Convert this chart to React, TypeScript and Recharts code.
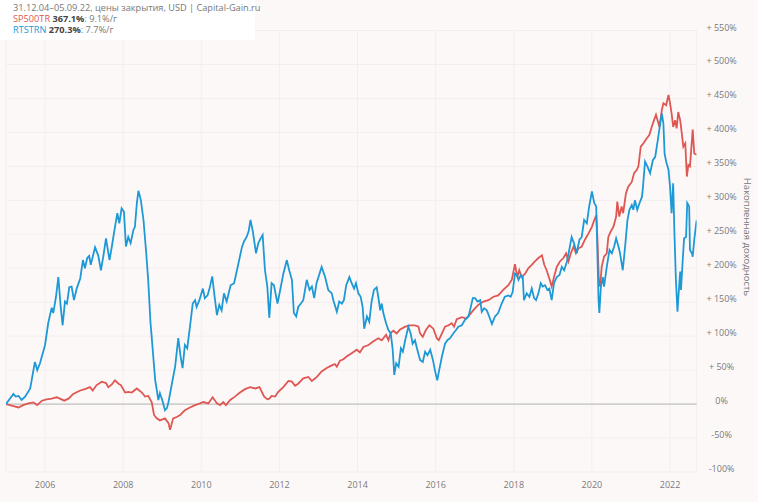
import React from 'react';
import { LineChart, Line, XAxis, YAxis, CartesianGrid, ReferenceLine } from 'recharts';

// SP500TR cumulative return, % (date as decimal year)
const spDates = [
  2005.0, 2005.19, 2005.32, 2005.44, 2005.57, 2005.7, 2005.8, 2005.92, 2006.04, 2006.17, 2006.3, 2006.38,
  2006.49, 2006.6, 2006.72, 2006.9, 2007.02, 2007.15, 2007.22, 2007.32, 2007.45, 2007.56, 2007.62, 2007.71,
  2007.79, 2007.88, 2007.94, 2008.05, 2008.13, 2008.22, 2008.35, 2008.48, 2008.56, 2008.64, 2008.73, 2008.79,
  2008.86, 2008.94, 2009.07, 2009.16, 2009.2, 2009.28, 2009.37, 2009.46, 2009.58, 2009.71, 2009.84, 2009.97,
  2010.05, 2010.18, 2010.29, 2010.4, 2010.48, 2010.56, 2010.63, 2010.74, 2010.86, 2010.99, 2011.12, 2011.25,
  2011.38, 2011.49, 2011.55, 2011.61, 2011.69, 2011.74, 2011.8, 2011.89, 2011.97, 2012.1, 2012.23, 2012.32,
  2012.4, 2012.48, 2012.61, 2012.74, 2012.83, 2012.96, 2013.08, 2013.21, 2013.34, 2013.42, 2013.47, 2013.55,
  2013.64, 2013.72, 2013.85, 2013.98, 2014.06, 2014.15, 2014.28, 2014.4, 2014.53, 2014.62, 2014.73, 2014.79,
  2014.85, 2014.92, 2015.0, 2015.09, 2015.22, 2015.34, 2015.47, 2015.56, 2015.6, 2015.67, 2015.75, 2015.84,
  2015.94, 2016.03, 2016.08, 2016.16, 2016.24, 2016.33, 2016.41, 2016.47, 2016.54, 2016.67, 2016.78, 2016.86,
  2016.96, 2017.09, 2017.22, 2017.35, 2017.48, 2017.6, 2017.73, 2017.86, 2017.95, 2018.03, 2018.09, 2018.14,
  2018.2, 2018.29, 2018.37, 2018.46, 2018.54, 2018.63, 2018.72, 2018.78, 2018.84, 2018.91, 2018.97, 2019.03,
  2019.1, 2019.18, 2019.27, 2019.34, 2019.4, 2019.46, 2019.53, 2019.59, 2019.65, 2019.74, 2019.82, 2019.91,
  2020.0, 2020.06, 2020.11, 2020.14, 2020.18, 2020.21, 2020.25, 2020.31, 2020.38, 2020.42, 2020.48, 2020.55,
  2020.62, 2020.65, 2020.7, 2020.76, 2020.8, 2020.87, 2020.93, 2021.02, 2021.08, 2021.15, 2021.19, 2021.25,
  2021.32, 2021.4, 2021.47, 2021.53, 2021.59, 2021.64, 2021.68, 2021.73, 2021.79, 2021.83, 2021.9, 2021.96,
  2022.0, 2022.04, 2022.08, 2022.13, 2022.17, 2022.21, 2022.26, 2022.3, 2022.34, 2022.39, 2022.43, 2022.47,
  2022.51, 2022.58, 2022.62, 2022.68,
];
const spValues = [
  0, -3, -5, -1.5, 1, 2.5, -1.5, 5, 7, 8, 10, 8,
  5, 8, 15, 20, 22, 25, 20, 28, 33, 31, 25, 29,
  35, 30, 28, 17, 18, 17, 23, 17, 11, 12, 3, -16,
  -21, -24, -21, -28, -38, -21, -19, -16, -9, -5, -1.5, 1,
  3, 1, 10, 1, -1.5, 3, -1.5, 6, 11, 17, 22, 25,
  23, 25, 18, 11, 7, 8, 12, 11, 18, 25, 34, 33,
  27, 30, 38, 40, 34, 40, 48, 53, 57, 59, 55, 64,
  66, 70, 75, 80, 76, 84, 87, 92, 97, 94, 102, 94,
  105, 108, 104, 110, 114, 116, 116, 114, 104, 99, 109, 116,
  111, 97, 94, 104, 114, 116, 119, 114, 125, 128, 126, 131,
  138, 146, 151, 153, 158, 160, 168, 175, 183, 206, 187, 197,
  187, 192, 200, 205, 210, 215, 219, 205, 197, 185, 173, 187,
  202, 210, 215, 222, 210, 222, 232, 222, 229, 232, 242, 251,
  261, 271, 278, 246, 178, 173, 202, 217, 222, 246, 254, 261,
  276, 298, 276, 291, 281, 310, 320, 327, 340, 345, 350, 379,
  384, 391, 396, 408, 418, 426, 418, 408, 433, 443, 440, 455,
  443, 428, 408, 418, 406, 430, 418, 399, 379, 384, 335, 352,
  350, 404, 369, 367.1,
];

// RTSTRN cumulative return, % (date as decimal year)
const rtsDates = [
  2005.0, 2005.19, 2005.25, 2005.32, 2005.4, 2005.49, 2005.62, 2005.74, 2005.8, 2005.87, 2006.0, 2006.08,
  2006.17, 2006.21, 2006.28, 2006.34, 2006.4, 2006.45, 2006.51, 2006.56, 2006.62, 2006.68, 2006.74, 2006.81,
  2006.9, 2006.97, 2007.02, 2007.08, 2007.13, 2007.17, 2007.28, 2007.36, 2007.43, 2007.49, 2007.56, 2007.65,
  2007.71, 2007.79, 2007.85, 2007.9, 2007.96, 2008.02, 2008.07, 2008.13, 2008.19, 2008.26, 2008.3, 2008.35,
  2008.39, 2008.45, 2008.52, 2008.59, 2008.64, 2008.7, 2008.73, 2008.77, 2008.82, 2008.86, 2008.9, 2008.94,
  2009.0, 2009.07, 2009.12, 2009.16, 2009.28, 2009.33, 2009.41, 2009.47, 2009.52, 2009.58, 2009.64, 2009.71,
  2009.78, 2009.84, 2009.88, 2009.95, 2010.04, 2010.09, 2010.16, 2010.21, 2010.28, 2010.33, 2010.4, 2010.46,
  2010.52, 2010.58, 2010.65, 2010.75, 2010.84, 2010.95, 2011.04, 2011.09, 2011.16, 2011.21, 2011.26, 2011.32,
  2011.4, 2011.46, 2011.52, 2011.57, 2011.63, 2011.69, 2011.74, 2011.8, 2011.86, 2011.95, 2012.02, 2012.1,
  2012.19, 2012.25, 2012.32, 2012.37, 2012.43, 2012.48, 2012.55, 2012.61, 2012.7, 2012.77, 2012.83, 2012.89,
  2012.95, 2013.08, 2013.17, 2013.25, 2013.34, 2013.38, 2013.47, 2013.53, 2013.6, 2013.65, 2013.71, 2013.79,
  2013.85, 2013.91, 2013.96, 2014.02, 2014.08, 2014.13, 2014.17, 2014.24, 2014.3, 2014.36, 2014.42, 2014.49,
  2014.53, 2014.58, 2014.62, 2014.66, 2014.73, 2014.79, 2014.85, 2014.9, 2014.94, 2014.99, 2015.05, 2015.11,
  2015.16, 2015.22, 2015.3, 2015.36, 2015.41, 2015.47, 2015.53, 2015.6, 2015.67, 2015.73, 2015.79, 2015.86,
  2015.93, 2015.98, 2016.04, 2016.09, 2016.16, 2016.24, 2016.3, 2016.37, 2016.45, 2016.52, 2016.58, 2016.67,
  2016.75, 2016.84, 2016.88, 2016.95, 2017.01, 2017.07, 2017.14, 2017.18, 2017.24, 2017.31, 2017.37, 2017.44,
  2017.52, 2017.6, 2017.69, 2017.77, 2017.86, 2017.92, 2017.97, 2018.03, 2018.08, 2018.12, 2018.18, 2018.23,
  2018.26, 2018.33, 2018.4, 2018.46, 2018.52, 2018.57, 2018.63, 2018.69, 2018.74, 2018.8, 2018.86, 2018.91,
  2018.97, 2019.03, 2019.1, 2019.17, 2019.23, 2019.29, 2019.36, 2019.42, 2019.48, 2019.54, 2019.61, 2019.68,
  2019.74, 2019.8, 2019.87, 2019.93, 2020.0, 2020.06, 2020.11, 2020.14, 2020.17, 2020.19, 2020.23, 2020.28,
  2020.31, 2020.38, 2020.45, 2020.51, 2020.57, 2020.62, 2020.68, 2020.72, 2020.79, 2020.85, 2020.91, 2020.96,
  2021.02, 2021.06, 2021.1, 2021.16, 2021.22, 2021.28, 2021.3, 2021.36, 2021.42, 2021.49, 2021.56, 2021.62,
  2021.68, 2021.73, 2021.79, 2021.83, 2021.86, 2021.9, 2021.96, 2022.0, 2022.04, 2022.08, 2022.11, 2022.15,
  2022.19, 2022.22, 2022.26, 2022.28, 2022.33, 2022.36, 2022.41, 2022.44, 2022.49, 2022.51, 2022.56, 2022.58,
  2022.62, 2022.68,
];
const rtsValues = [
  0, 15, 11, 12, 6, 11, 23, 62, 50, 60, 87, 119,
  142, 134, 158, 187, 143, 116, 151, 148, 172, 173, 153, 170,
  185, 212, 200, 215, 218, 205, 231, 219, 197, 217, 244, 212,
  232, 261, 281, 266, 288, 283, 232, 246, 237, 256, 261, 296,
  314, 301, 271, 222, 183, 119, 99, 70, 35, 21, 6, 16,
  6, -9, -6, 3, 40, 55, 97, 70, 53, 87, 82, 114,
  148, 153, 143, 153, 170, 156, 160, 170, 188, 163, 131, 146,
  138, 163, 151, 175, 178, 207, 231, 239, 246, 254, 271, 254,
  222, 237, 244, 249, 197, 173, 127, 178, 175, 148, 168, 192,
  212, 197, 183, 134, 129, 143, 148, 153, 183, 168, 173, 156,
  178, 202, 187, 168, 163, 153, 136, 151, 148, 153, 175, 187,
  178, 170, 178, 163, 158, 143, 111, 129, 121, 151, 168, 172,
  158, 138, 148, 134, 119, 109, 104, 80, 43, 60, 55, 82,
  77, 94, 114, 104, 89, 94, 80, 65, 62, 77, 72, 80,
  65, 50, 35, 50, 70, 89, 94, 97, 104, 109, 114, 116,
  124, 129, 138, 156, 156, 151, 153, 136, 141, 138, 129, 118,
  129, 134, 148, 158, 160, 158, 165, 192, 190, 183, 190, 187,
  153, 163, 158, 170, 156, 153, 163, 178, 173, 175, 168, 170,
  153, 178, 187, 190, 202, 197, 210, 227, 246, 237, 222, 242,
  246, 271, 266, 291, 313, 296, 291, 222, 153, 134, 173, 187,
  173, 202, 227, 222, 232, 244, 232, 222, 197, 232, 271, 286,
  293, 286, 300, 286, 296, 305, 315, 357, 350, 340, 359, 364,
  386, 406, 428, 413, 369, 357, 345, 320, 281, 325, 256, 183,
  136, 163, 195, 168, 217, 244, 246, 296, 291, 227, 222, 217,
  242, 270.3,
];

const yearTicks = [2006, 2008, 2010, 2012, 2014, 2016, 2018, 2020, 2022];
const pctTicks = [-100, -50, 0, 50, 100, 150, 200, 250, 300, 350, 400, 450, 500, 550];

const spData = spDates.map((t, i) => ({ t, v: spValues[i] }));
const rtsData = rtsDates.map((t, i) => ({ t, v: rtsValues[i] }));

const FONT = '"Open Sans", "DejaVu Sans", sans-serif';
const RED = '#df5752';
const BLUE = '#1d99d6';

const fmtPct = (v: number) => (v > 0 ? `+ ${v}%` : `${v}%`);

const XTick = (props: any) => {
  const { x, y, payload } = props;
  return (
    <text x={x} y={y + 4} textAnchor="middle" dominantBaseline="central" fontSize={9} fill="#7a7a7a" fontFamily={FONT}>
      {payload.value}
    </text>
  );
};

const YTick = (props: any) => {
  const { x, y, payload } = props;
  return (
    <text x={x + 17} y={y - 3.5} textAnchor="middle" dominantBaseline="central" fontSize={9} fill="#7a7a7a" fontFamily={FONT}>
      {fmtPct(payload.value)}
    </text>
  );
};

export default function App() {
  return (
    <div style={{ position: 'absolute', left: 0, top: 0, width: 758, height: 502, background: '#fdf8f8', fontFamily: FONT, overflow: 'hidden' }}>
      <LineChart
        width={758}
        height={502}
        margin={{ top: 30.5, right: 6.4, left: 6, bottom: 5 }}
      >
        <CartesianGrid stroke="#f4eded" strokeWidth={1} />
        <XAxis
          type="number"
          dataKey="t"
          domain={[2005, 2022.68]}
          ticks={yearTicks}
          tick={<XTick />}
          axisLine={false}
          tickLine={false}
          height={25}
          allowDataOverflow
        />
        <YAxis
          orientation="right"
          type="number"
          dataKey="v"
          domain={[-100, 550]}
          ticks={pctTicks}
          tick={<YTick />}
          axisLine={false}
          tickLine={false}
          width={55}
          allowDataOverflow
        />
        <ReferenceLine y={0} stroke="#c2c2c2" strokeWidth={1.2} />
        <Line data={spData} dataKey="v" type="linear" stroke={RED} strokeWidth={1.8} dot={false} isAnimationActive={false} />
        <Line data={rtsData} dataKey="v" type="linear" stroke={BLUE} strokeWidth={1.8} dot={false} isAnimationActive={false} />
      </LineChart>
      <div style={{ position: 'absolute', left: 0, top: 0, width: 255, height: 40, background: '#ffffff', opacity: 0.92 }} />
      <div style={{ position: 'absolute', left: 13, top: 2, fontSize: 9.2, lineHeight: '11px', color: '#777', whiteSpace: 'nowrap' }}>
        <div>31.12.04–05.09.22, цены закрытия, USD | Capital-Gain.ru</div>
        <div>
          <span style={{ color: RED }}>SP500TR</span> <b style={{ color: '#444' }}>367.1%</b>: 9.1%/г
        </div>
        <div>
          <span style={{ color: BLUE }}>RTSTRN</span> <b style={{ color: '#444' }}>270.3%</b>: 7.7%/г
        </div>
      </div>
      <div
        style={{
          position: 'absolute',
          left: 747 - 70,
          top: 237 - 6,
          width: 140,
          height: 12,
          lineHeight: '12px',
          textAlign: 'center',
          transform: 'rotate(90deg)',
          fontSize: 9.5,
          color: '#777',
          whiteSpace: 'nowrap',
        }}
      >
        Накопленная доходность
      </div>
    </div>
  );
}
